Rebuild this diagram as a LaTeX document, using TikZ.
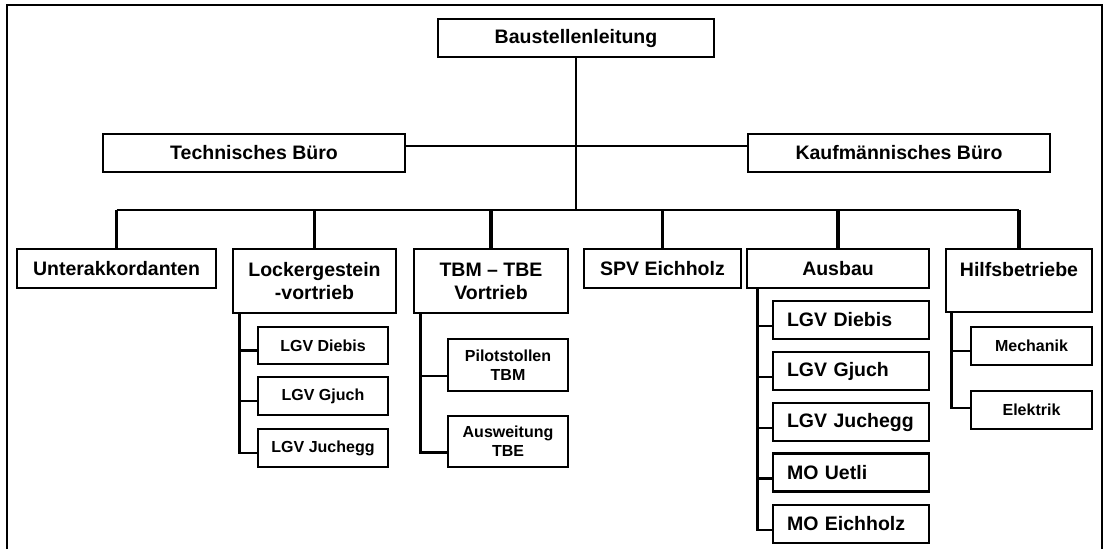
\documentclass[tikz,border=0pt]{standalone}
\usepackage{fontspec}
\setmainfont{Liberation Sans}

\begin{document}
\begin{tikzpicture}[x=1pt,y=-1pt,
    box/.style={draw, line width=2.3pt, fill=white, align=center, inner sep=0pt,
      font=\fontsize{19.5}{23}\selectfont\bfseries},
    smallbox/.style={box, font=\fontsize{16}{19}\selectfont\bfseries},
    listbox/.style={box, align=left, text width=128pt, inner xsep=14pt,
      minimum width=156, minimum height=38},
    thin/.style={line width=1.8pt},
    drop/.style={line width=3.2pt},
    branch/.style={line width=2.8pt}]
  \useasboundingbox (0,0) rectangle (1106,549);
  \draw[line width=1.8pt] (7,549) -- (7,5) -- (1102,5) -- (1102,549);

  % top
  \node[box, minimum width=276, minimum height=38] (bl) at (576,38) {Baustellenleitung};
  \node[box, minimum width=302, minimum height=38] (tb) at (254,153) {Technisches Büro};
  \node[box, minimum width=302, minimum height=38] (kb) at (899,153) {Kaufmännisches Büro};
  \coordinate (bus) at (576,210);

  % second row
  \node[box, minimum width=199, minimum height=39] (ua) at (116.5,268.5) {Unterakkordanten};
  \node[box, minimum width=163, minimum height=64] (lv) at (314.5,281) {Lockergestein\\-vortrieb};
  \node[box, minimum width=154, minimum height=64] (tbm) at (491,281) {TBM -- TBE\\Vortrieb};
  \node[box, minimum width=157, minimum height=39] (spv) at (662.5,268.5) {SPV Eichholz};
  \node[box, minimum width=182, minimum height=39] (ab) at (838,268.5) {Ausbau};
  \node[box, minimum width=146, minimum height=63] (hb) at (1019,280.5) {Hilfsbetriebe\\\mbox{}};

  % Lockergestein
  \node[smallbox, minimum width=130, minimum height=37] (lva) at (323,345.5) {LGV Diebis};
  \node[smallbox, minimum width=130, minimum height=38] (lvb) at (323,396) {LGV Gjuch};
  \node[smallbox, minimum width=130, minimum height=38] (lvc) at (323,448) {LGV Juchegg};

  % TBM
  \node[smallbox, minimum width=120, minimum height=52] (tpa) at (508,365) {Pilotstollen\\TBM};
  \node[smallbox, minimum width=120, minimum height=51] (tpb) at (508,441.5) {Ausweitung\\TBE};

  % Ausbau
  \node[listbox] (aba) at (851,320) {LGV Diebis};
  \node[listbox] (abb) at (851,371) {LGV Gjuch};
  \node[listbox] (abc) at (851,422) {LGV Juchegg};
  \node[listbox] (abd) at (851,472.5) {MO Uetli};
  \node[listbox] (abe) at (851,524) {MO Eichholz};

  % Hilfsbetriebe
  \node[smallbox, minimum width=121, minimum height=38] (hba) at (1031.5,346) {Mechanik};
  \node[smallbox, minimum width=121, minimum height=38] (hbb) at (1031.5,410) {Elektrik};

  \draw[thin] (bl) -- (bus);
  \draw[thin] ([yshift=7pt]tb.east) -- ([yshift=7pt]kb.west);
  \draw[thin] (ua.north |- bus) -- (hb.north |- bus);
  \draw[drop] (ua.north) -- (ua.north |- bus);
  \draw[drop] (lv.north) -- (lv.north |- bus);
  \draw[drop] (tbm.north) -- (tbm.north |- bus);
  \draw[drop] (spv.north) -- (spv.north |- bus);
  \draw[drop] (ab.north) -- (ab.north |- bus);
  \draw[drop] (hb.north) -- (hb.north |- bus);

  \draw[branch] ([xshift=8pt]lv.south west) |- ([yshift=-5pt]lva.west);
  \draw[branch] ([xshift=8pt]lv.south west) |- ([yshift=-5pt]lvb.west);
  \draw[branch] ([xshift=8pt]lv.south west) |- ([yshift=-5pt]lvc.west);

  \draw[branch] ([xshift=8pt]tbm.south west) |- ([yshift=-11pt]tpa.west);
  \draw[branch] ([xshift=8pt]tbm.south west) |- ([yshift=-11pt]tpb.west);

  \draw[branch] ([xshift=12pt]ab.south west) |- ([yshift=-6pt]aba.west);
  \draw[branch] ([xshift=12pt]ab.south west) |- ([yshift=-6pt]abb.west);
  \draw[branch] ([xshift=12pt]ab.south west) |- ([yshift=-6pt]abc.west);
  \draw[branch] ([xshift=12pt]ab.south west) |- ([yshift=-6pt]abd.west);
  \draw[branch] ([xshift=12pt]ab.south west) |- ([yshift=-6pt]abe.west);

  \draw[branch] ([xshift=7pt]hb.south west) |- ([yshift=-5pt]hba.west);
  \draw[branch] ([xshift=7pt]hb.south west) |- ([yshift=2pt]hbb.west);
\end{tikzpicture}
\end{document}
